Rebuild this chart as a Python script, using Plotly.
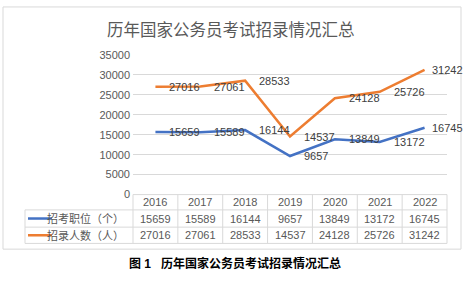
import plotly.graph_objects as go

years = ["2016", "2017", "2018", "2019", "2020", "2021", "2022"]
positions = [15659, 15589, 16144, 9657, 13849, 13172, 16745]
recruits = [27016, 27061, 28533, 14537, 24128, 25726, 31242]
series_names = ["招考职位（个）", "招录人数（人）"]
title_text = "历年国家公务员考试招录情况汇总"
caption_text = "图 1   历年国家公务员考试招录情况汇总"

W, H = 463, 281
BLUE = "#4472C4"
ORANGE = "#ED7D31"
GRID = "#D9D9D9"
TXT = "#595959"
LBL = "#404040"
FONT = "Liberation Sans, Arial, 'Noto Sans CJK SC', sans-serif"

X0, X1 = 133, 447      # plot area left/right in px
Y_TOP, Y_BOT = 51, 197  # plot area top/bottom in px
ROWS = [197, 213, 231, 248]
LEG_X = 25

def px(x):
    return x / W

def py(y):
    return (H - y) / H

fig = go.Figure()
for vals, color, name in [(positions, BLUE, series_names[0]), (recruits, ORANGE, series_names[1])]:
    fig.add_trace(go.Scatter(
        x=list(range(len(years))), y=vals, mode="lines", name=name,
        line=dict(color=color, width=2.5),
        cliponaxis=False, showlegend=False, hoverinfo="y",
    ))

shapes = []
# frame
shapes.append(dict(type="rect", xref="paper", yref="paper",
                   x0=px(3), x1=px(461), y0=py(254), y1=py(1),
                   line=dict(color=GRID, width=1)))
# table horizontal lines
shapes.append(dict(type="line", xref="paper", yref="paper",
                   x0=px(X0), x1=px(X1), y0=py(ROWS[0]), y1=py(ROWS[0]),
                   line=dict(color=GRID, width=1)))
for r in ROWS[1:]:
    shapes.append(dict(type="line", xref="paper", yref="paper",
                       x0=px(LEG_X), x1=px(X1), y0=py(r), y1=py(r),
                       line=dict(color=GRID, width=1)))
# vertical lines
shapes.append(dict(type="line", xref="paper", yref="paper",
                   x0=px(LEG_X), x1=px(LEG_X), y0=py(ROWS[1]), y1=py(ROWS[3]),
                   line=dict(color=GRID, width=1)))
ncat = len(years)
for i in range(ncat + 1):
    xv = X0 + (X1 - X0) * i / ncat
    shapes.append(dict(type="line", xref="paper", yref="paper",
                       x0=px(xv), x1=px(xv), y0=py(ROWS[0]), y1=py(ROWS[3]),
                       line=dict(color=GRID, width=1)))
# legend keys
for k, color in enumerate([BLUE, ORANGE]):
    yc = (ROWS[k + 1] + ROWS[k + 2]) / 2
    shapes.append(dict(type="line", xref="paper", yref="paper",
                       x0=px(28), x1=px(52), y0=py(yc), y1=py(yc),
                       line=dict(color=color, width=2.5)))

annotations = []
annotations.append(dict(text=title_text, xref="paper", yref="paper",
                        x=px(231), y=py(25), xanchor="center", yanchor="middle",
                        showarrow=False, font=dict(size=16.5, color=TXT, family=FONT)))
annotations.append(dict(text="<b>" + caption_text + "</b>", xref="paper", yref="paper",
                        x=px(235), y=py(269), xanchor="center", yanchor="middle",
                        showarrow=False, font=dict(size=12, color="#000000", family=FONT)))
# data labels (to the right of each point)
for vals in (positions, recruits):
    for ci, v in enumerate(vals):
        shift = 12 if ci < ncat - 1 else 5
        annotations.append(dict(text=str(v), xref="x", yref="y", x=ci, y=v,
                                xanchor="left", yanchor="middle", xshift=shift,
                                showarrow=False, font=dict(size=11, color=LBL, family=FONT)))
# table cells
rows_vals = [years, [str(v) for v in positions], [str(v) for v in recruits]]
for ri, vals in enumerate(rows_vals):
    yc = (ROWS[ri] + ROWS[ri + 1]) / 2
    for ci, v in enumerate(vals):
        annotations.append(dict(text=v, xref="x", yref="paper", x=ci, y=py(yc),
                                xanchor="center", yanchor="middle", showarrow=False,
                                font=dict(size=11, color=TXT, family=FONT)))
for k, name in enumerate(series_names):
    yc = (ROWS[k + 1] + ROWS[k + 2]) / 2
    annotations.append(dict(text=name, xref="paper", yref="paper", x=px(126), y=py(yc),
                            xanchor="right", yanchor="middle", showarrow=False,
                            font=dict(size=11, color=TXT, family=FONT)))

fig.update_layout(
    width=W, height=H, margin=dict(l=0, r=0, t=0, b=0),
    paper_bgcolor="white", plot_bgcolor="white",
    font=dict(family=FONT, size=11, color=TXT),
    shapes=shapes, annotations=annotations,
    xaxis=dict(domain=[px(X0), px(X1)], range=[-0.5, ncat - 0.5],
               showticklabels=False, showgrid=False, zeroline=False, showline=False),
    yaxis=dict(domain=[py(Y_BOT), py(Y_TOP)], range=[0, 35000], dtick=5000,
               tickformat="d",
               showgrid=True, gridcolor=GRID, gridwidth=1, zeroline=False, showline=False,
               tickfont=dict(size=11, color=TXT, family=FONT), ticklabelstandoff=2),
)

fig.write_html("out.html", config={"displayModeBar": False},
               post_script="document.body.style.margin='0px';")
